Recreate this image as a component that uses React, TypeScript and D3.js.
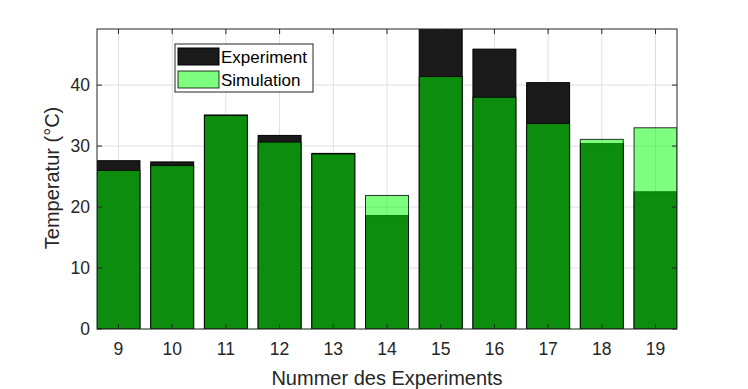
import React from "react";
import * as d3 from "d3";

const experiments = [9, 10, 11, 12, 13, 14, 15, 16, 17, 18, 19];
const experimentValues = [27.6, 27.4, 35.1, 31.75, 28.8, 18.6, 52.0, 45.9, 40.4, 30.4, 22.5];
const simulationValues = [26.0, 26.8, 35.0, 30.65, 28.7, 21.9, 41.4, 38.0, 33.7, 31.1, 33.0];
const yTicks = [0, 10, 20, 30, 40];
const seriesNames = ["Experiment", "Simulation"];

const W = 748;
const H = 389;
const L = 97, R = 677, T = 29, B = 329;
const FONT = "'Liberation Sans', Arial, Helvetica, sans-serif";
const AX = "#262626";

export default function App() {
  const x = d3.scaleLinear().domain([8.6, 19.4]).range([L, R]);
  const y = d3.scaleLinear().domain([0, 49.2]).range([B, T]);
  const bw = x(0.8) - x(0);
  const tickLen = 5;

  return (
    <svg width={W} height={H} style={{ position: "absolute", left: 0, top: 0, background: "#fff" }}>
      <defs>
        <clipPath id="plotclip">
          <rect x={L} y={T} width={R - L} height={B - T} />
        </clipPath>
      </defs>
      <rect x={0} y={0} width={W} height={H} fill="#fff" />
      {/* grid */}
      <g stroke="#dfdfdf" strokeWidth={1}>
        {experiments.map((e) => (
          <line key={"gx" + e} x1={x(e)} x2={x(e)} y1={T} y2={B} />
        ))}
        {yTicks.map((t) => (
          <line key={"gy" + t} x1={L} x2={R} y1={y(t)} y2={y(t)} />
        ))}
      </g>
      {/* bars */}
      <g clipPath="url(#plotclip)">
        {experiments.map((e, i) => (
          <rect
            key={"ex" + e}
            x={x(e) - bw / 2}
            y={y(experimentValues[i])}
            width={bw}
            height={y(0) - y(experimentValues[i])}
            fill="#1a1a1a"
            stroke="#000"
            strokeWidth={1}
          />
        ))}
        {experiments.map((e, i) => (
          <rect
            key={"sim" + e}
            x={x(e) - bw / 2}
            y={y(simulationValues[i])}
            width={bw}
            height={y(0) - y(simulationValues[i])}
            fill="#00ff00"
            fillOpacity={0.5}
            stroke="#000"
            strokeOpacity={0.8}
            strokeWidth={1}
          />
        ))}
      </g>
      {/* axes box */}
      <rect x={L} y={T} width={R - L} height={B - T} fill="none" stroke={AX} strokeWidth={1} />
      {/* ticks */}
      <g stroke={AX} strokeWidth={1}>
        {experiments.map((e) => (
          <g key={"tx" + e}>
            <line x1={x(e)} x2={x(e)} y1={B} y2={B - tickLen} />
            <line x1={x(e)} x2={x(e)} y1={T} y2={T + tickLen} />
          </g>
        ))}
        {yTicks.map((t) => (
          <g key={"ty" + t}>
            <line x1={L} x2={L + tickLen} y1={y(t)} y2={y(t)} />
            <line x1={R} x2={R - tickLen} y1={y(t)} y2={y(t)} />
          </g>
        ))}
      </g>
      {/* tick labels */}
      <g fontFamily={FONT} fontSize={17.5} fill={AX}>
        {experiments.map((e) => (
          <text key={"lx" + e} x={x(e)} y={355} textAnchor="middle">
            {e}
          </text>
        ))}
        {yTicks.map((t) => (
          <text key={"ly" + t} x={90} y={y(t) + 6} textAnchor="end">
            {t}
          </text>
        ))}
      </g>
      {/* axis labels */}
      <text x={(L + R) / 2} y={385} textAnchor="middle" fontFamily={FONT} fontSize={20} fill={AX}>
        Nummer des Experiments
      </text>
      <text
        transform={`translate(59, ${(T + B) / 2 - 1}) rotate(-90)`}
        textAnchor="middle"
        fontFamily={FONT}
        fontSize={20}
        fill={AX}
      >
        Temperatur (°C)
      </text>
      {/* legend */}
      <g>
        <rect x={175} y={44} width={138} height={48} fill="#fff" stroke={AX} strokeWidth={1} />
        <rect x={178} y={48} width={41} height={17} fill="#1a1a1a" stroke="#000" strokeWidth={1} />
        <rect x={178} y={71} width={41} height={17} fill="#00ff00" fillOpacity={0.5} stroke="#000" strokeOpacity={0.8} strokeWidth={1} />
        <text x={221} y={62.5} fontFamily={FONT} fontSize={17} fill="#000">
          {seriesNames[0]}
        </text>
        <text x={221} y={85.5} fontFamily={FONT} fontSize={17} fill="#000">
          {seriesNames[1]}
        </text>
      </g>
    </svg>
  );
}
